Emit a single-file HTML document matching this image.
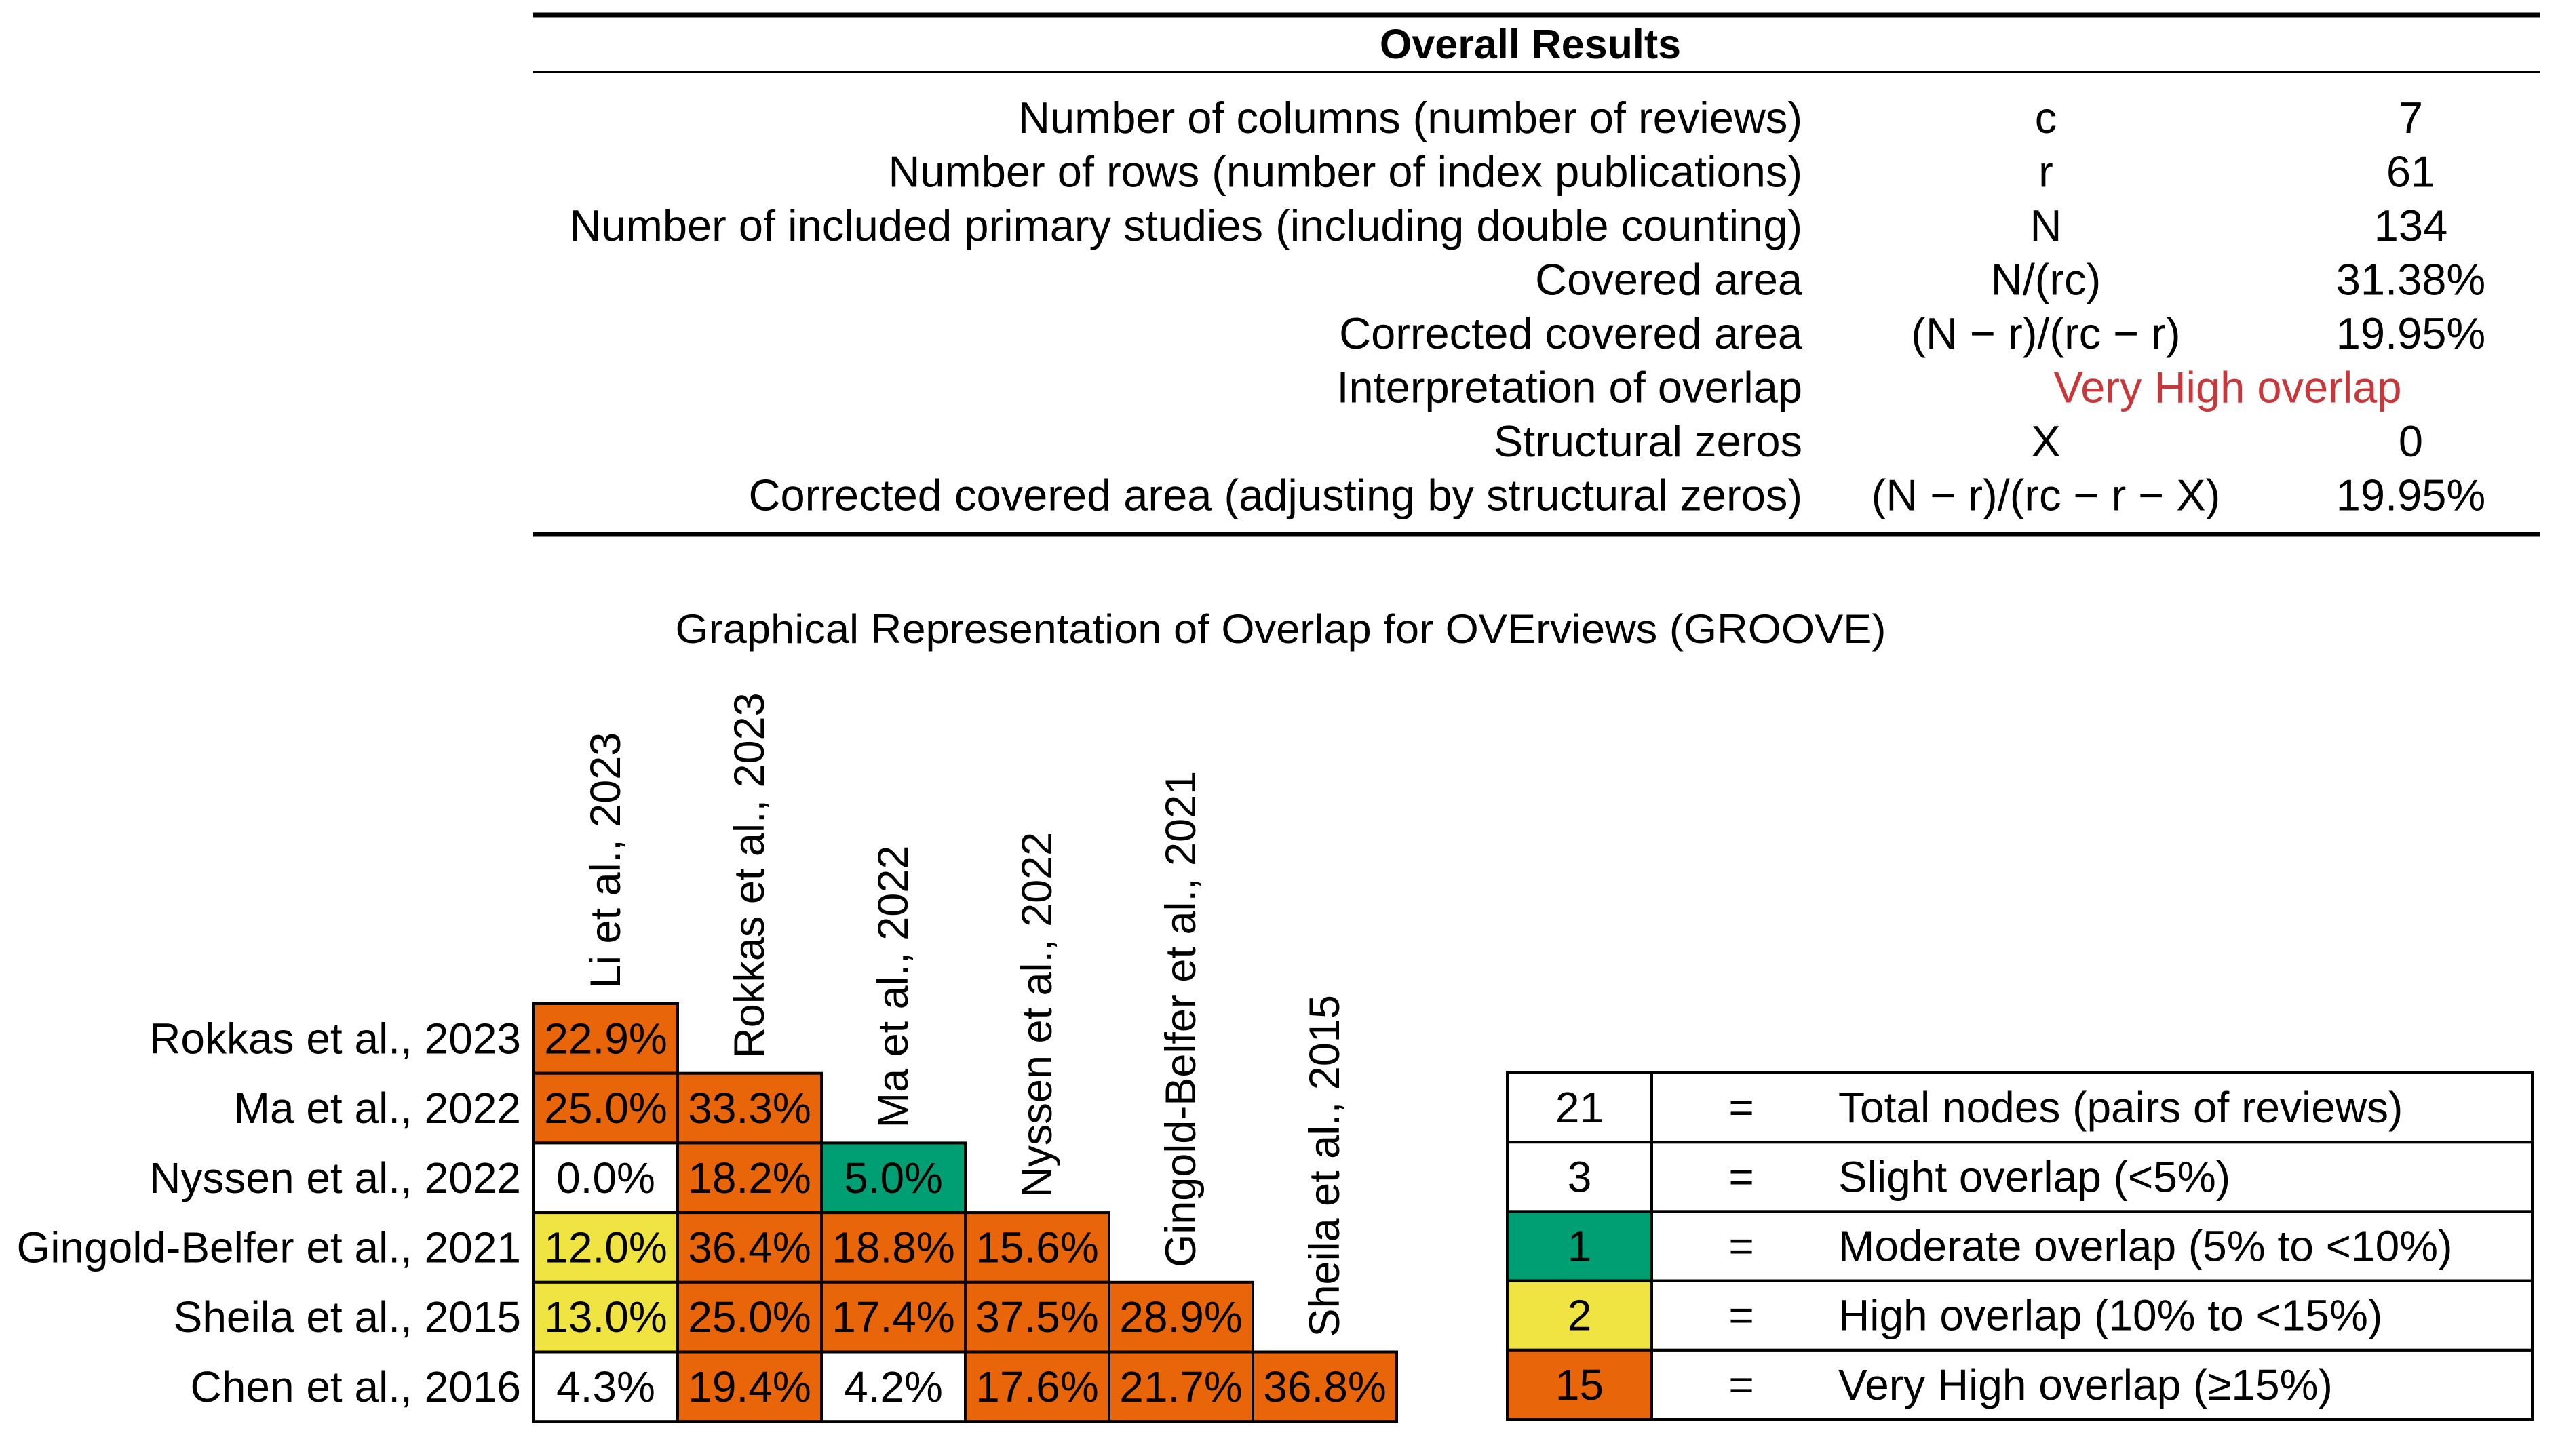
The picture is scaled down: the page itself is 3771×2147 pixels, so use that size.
<!DOCTYPE html>
<html><head><meta charset="utf-8"><style>
html,body{margin:0;padding:0;background:#fff;}
svg{display:block;font-family:"Liberation Sans",Arial,sans-serif;}
</style></head><body>
<svg id="chart" width="3771" height="2147" viewBox="0 0 3771 2147" xmlns="http://www.w3.org/2000/svg">
<g id="results">
  <line x1="786" y1="22" x2="3744" y2="22" stroke="#000" stroke-width="7"/>
  <text x="2256" y="86" font-size="61" font-weight="bold" text-anchor="middle">Overall Results</text>
  <line x1="786" y1="106" x2="3744" y2="106" stroke="#000" stroke-width="4"/>
  <line x1="786" y1="788" x2="3744" y2="788" stroke="#000" stroke-width="7"/>
</g>
<text x="1888" y="948" font-size="60" text-anchor="middle" textLength="1785" lengthAdjust="spacingAndGlyphs">Graphical Representation of Overlap for OVErviews (GROOVE)</text>
<g id="matrix"></g>
<g id="legend"></g>
</svg>
<script>
const NS="http://www.w3.org/2000/svg";
const statLabels=["Number of columns (number of reviews)","Number of rows (number of index publications)","Number of included primary studies (including double counting)","Covered area","Corrected covered area","Interpretation of overlap","Structural zeros","Corrected covered area (adjusting by structural zeros)"];
const statSymbols=["c","r","N","N/(rc)","(N \u2212 r)/(rc \u2212 r)","","X","(N \u2212 r)/(rc \u2212 r \u2212 X)"];
const statValues=["7","61","134","31.38%","19.95%","Very High overlap","0","19.95%"];
const reviews=["Li et al., 2023","Rokkas et al., 2023","Ma et al., 2022","Nyssen et al., 2022","Gingold-Belfer et al., 2021","Sheila et al., 2015","Chen et al., 2016"];
const overlapValues=[[22.9],[25.0,33.3],[0.0,18.2,5.0],[12.0,36.4,18.8,15.6],[13.0,25.0,17.4,37.5,28.9],[4.3,19.4,4.2,17.6,21.7,36.8]];
const legendCounts=["21","3","1","2","15"];
const legendLabels=["Total nodes (pairs of reviews)","Slight overlap (<5%)","Moderate overlap (5% to <10%)","High overlap (10% to <15%)","Very High overlap (\u226515%)"];
const legendColors=["#fff","#fff","#009E73","#F0E442","#E8650A"];

function mk(tag,attrs,parent,txt){const e=document.createElementNS(NS,tag);for(const k in attrs)e.setAttribute(k,attrs[k]);if(txt!==undefined)e.textContent=txt;parent.appendChild(e);return e;}
function color(v){return v<5?"#fff":v<10?"#009E73":v<15?"#F0E442":"#E8650A";}

const res=document.getElementById("results");
const rowY=i=>174+i*79.5+22;
statLabels.forEach((s,i)=>{
  const t=mk("text",{x:2657,y:rowY(i),"font-size":65,"text-anchor":"end"},res,s);
  
  
  if(statSymbols[i]){const a=mk("text",{x:3016,y:rowY(i),"font-size":65,"text-anchor":"middle"},res,statSymbols[i]);
  
  }
  const isInterp=i===5;
  const b=mk("text",{x:isInterp?3284:3554,y:rowY(i),"font-size":65,"text-anchor":"middle",fill:isInterp?"#C8373A":"#000"},res,statValues[i]);
  
  
});

const mx=document.getElementById("matrix");
const x0=787,y0=1480,cw=212,ch=102.7;
const xs=j=>x0+j*cw, ys=i=>y0+i*ch;
overlapValues.forEach((row,i)=>{
  const l=mk("text",{x:768,y:ys(i)+ch/2+22,"font-size":64,"text-anchor":"end"},mx,reviews[i+1]);
  
  
  row.forEach((v,j)=>{
    const r=mk("rect",{x:xs(j),y:ys(i),width:cw,height:ch,fill:color(v),stroke:"#000","stroke-width":4},mx);
    
    
    const t=mk("text",{x:xs(j)+cw/2,y:ys(i)+ch/2+22,"font-size":64,"text-anchor":"middle"},mx,v.toFixed(1)+"%");
    
    
  });
});
for(let j=0;j<6;j++){
  const cx=xs(j)+cw/2+21, by=ys(j)-22;
  const t=mk("text",{x:cx,y:by,"font-size":63,transform:`rotate(-90 ${cx} ${by})`},mx,reviews[j]);
  
  
}

const lg=document.getElementById("legend");
const lx0=2222,lx1=2435,lx2=3733,ly0=1582,lh=102.2;
legendCounts.forEach((c,i)=>{
  const y=ly0+i*lh;
  const a=mk("rect",{x:lx0,y:y,width:lx1-lx0,height:lh,fill:legendColors[i],stroke:"#000","stroke-width":4},lg);
  
  
  const b=mk("rect",{x:lx1,y:y,width:lx2-lx1,height:lh,fill:"none",stroke:"#000","stroke-width":4},lg);
  
  
  const t1=mk("text",{x:(lx0+lx1)/2,y:y+lh/2+22,"font-size":64,"text-anchor":"middle"},lg,c);
  
  
  const t2=mk("text",{x:2567,y:y+lh/2+22,"font-size":64,"text-anchor":"middle"},lg,"=");
  
  
  const t3=mk("text",{x:2710,y:y+lh/2+22,"font-size":64},lg,legendLabels[i]);
  
  
});
</script>
</body></html>
